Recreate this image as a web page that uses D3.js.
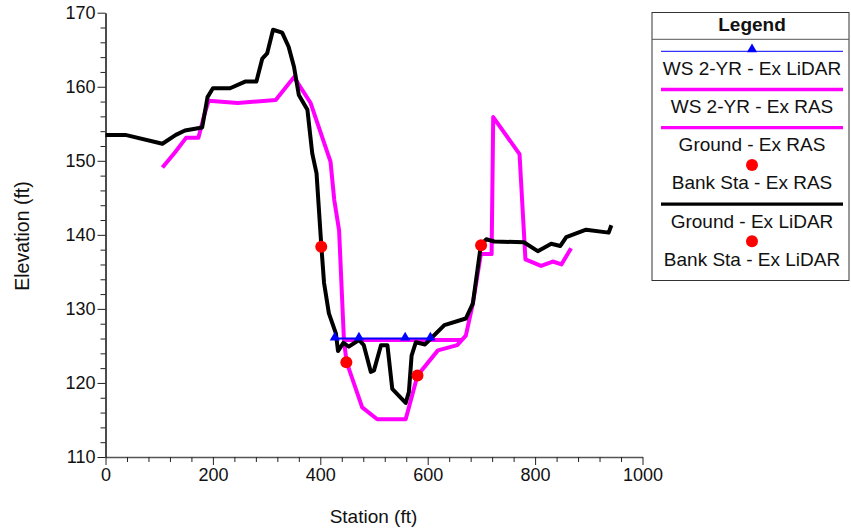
<!DOCTYPE html>
<html>
<head>
<meta charset="utf-8">
<script src="https://cdn.jsdelivr.net/npm/d3@7"></script>
<style>
body{margin:0;background:#fff;}
svg{font-family:"Liberation Sans",Arial,sans-serif;}
</style>
</head>
<body>
<div id="wrapper"></div>
<script>
// Data
const groundLidarSta = [0,37,106,131,148,180,190,200,232,260,281,292,301,312,329,341,351,360,376,385,393,402,407,416,429,433,443,453,472,481,494,500,513,525,534,559,565,570,578,595,606,631,671,684,699,709,724,779,805,830,847,858,895,937,942];
const groundLidarEl  = [153.5,153.5,152.3,153.5,154.1,154.5,158.6,159.8,159.8,160.7,160.7,163.8,164.5,167.7,167.3,165.4,162.7,158.9,156.9,151,148.3,138.4,133.5,129.4,126.7,124.3,125.4,124.9,125.8,125.1,121.5,121.7,125.1,125.1,119.2,117.3,118.8,123.7,125.5,125.2,126,127.8,128.7,130.7,138.6,139.4,139.1,139,137.8,138.8,138.5,139.7,140.7,140.3,141.3];
const groundRasSta = [106,130,150,173,184,192,246,317,351,382,419,426,435,444,449,478,506,559,581,619,655,671,684,699,719,722,771,782,811,833,849,867];
const groundRasEl  = [149.1,151.2,153.1,153.1,156.2,158.1,157.8,158.2,161.3,157.8,149.9,144.7,140.6,125.8,122.8,116.7,115.1,115.1,121.0,124.4,125.1,126.4,130.7,137.4,137.4,155.9,150.9,136.7,135.8,136.4,136,138.2];
const wsLidarSta = [427,472,558,605];
const wsLidarEl  = [126,126,126,126];
const wsRasSta = [444,663];
const wsRasEl  = [125.8,125.8];
const bankRasSta = [448.5,581];
const bankRasEl  = [122.8,121.0];
const bankLidarSta = [401.8,699.4];
const bankLidarEl  = [138.4,138.6];
const xTicks = [0,200,400,600,800,1000];
const yTicks = [110,120,130,140,150,160,170];
const legendItems = [
  {label:"WS 2-YR - Ex LiDAR", kind:"wsl"},
  {label:"WS 2-YR - Ex RAS", kind:"mag"},
  {label:"Ground - Ex RAS", kind:"mag"},
  {label:"Bank Sta - Ex RAS", kind:"dot"},
  {label:"Ground - Ex LiDAR", kind:"blk"},
  {label:"Bank Sta - Ex LiDAR", kind:"dot"}
];

const zip = (a,b) => a.map((v,i)=>[v,b[i]]);

const width = 851, height = 531;
const svg = d3.select("#wrapper").append("svg").attr("width",width).attr("height",height);

const x = d3.scaleLinear().domain([0,1000]).range([105.5,642.5]);
const y = d3.scaleLinear().domain([110,170]).range([457,12.7]);

// Axes
const xMinor = d3.range(0,1001,40).filter(v=>v%200!==0);
const yMinor = d3.range(110,171,2).filter(v=>v%10!==0);

const xAxis = svg.append("g").attr("transform",`translate(0,${y(110)})`)
  .call(d3.axisBottom(x).tickValues(xTicks).tickFormat(d3.format("d")).tickSize(8).tickSizeOuter(0).tickPadding(3));
xAxis.append("g").call(d3.axisBottom(x).tickValues(xMinor).tickSize(5).tickFormat(""))
  .select(".domain").remove();
xAxis.select(".domain").attr("stroke","#555");
const yAxis = svg.append("g").attr("transform",`translate(${x(0)},0)`)
  .call(d3.axisLeft(y).tickValues(yTicks).tickSize(8).tickSizeOuter(0).tickPadding(2));
yAxis.append("g").call(d3.axisLeft(y).tickValues(yMinor).tickSize(5).tickFormat(""))
  .select(".domain").remove();
yAxis.select(".domain").attr("stroke","#111");
svg.selectAll(".domain").attr("stroke-width",1.5);
svg.selectAll(".tick text").attr("font-size","18px").attr("fill","#111").attr("font-family","'Liberation Sans',Arial,sans-serif");
svg.selectAll(".tick line").attr("stroke","#222");

svg.append("text").attr("x",373.5).attr("y",523).attr("text-anchor","middle")
  .attr("font-size","19px").attr("fill","#111").text("Station (ft)");
svg.append("text").attr("transform","translate(29,236) rotate(-90)").attr("text-anchor","middle")
  .attr("font-size","19.5px").attr("fill","#111").text("Elevation (ft)");

// Lines
const line = d3.line().x(d=>x(d[0])).y(d=>y(d[1]));
svg.append("path").datum(zip(groundRasSta,groundRasEl)).attr("d",line)
  .attr("fill","none").attr("stroke","#ff00ff").attr("stroke-width",4).attr("stroke-linejoin","round");
svg.append("path").datum(zip(wsRasSta,wsRasEl)).attr("d",line)
  .attr("fill","none").attr("stroke","#ff00ff").attr("stroke-width",4);
svg.append("path").datum(zip(groundLidarSta,groundLidarEl)).attr("d",line)
  .attr("fill","none").attr("stroke","#000").attr("stroke-width",4).attr("stroke-linejoin","round");
svg.append("path").datum(zip(wsLidarSta,wsLidarEl)).attr("d",line)
  .attr("fill","none").attr("stroke","#0000ff").attr("stroke-width",2);
const tri = d3.symbol().type(d3.symbolTriangle).size(45);
svg.selectAll(".wst").data(zip(wsLidarSta,wsLidarEl)).enter().append("path")
  .attr("transform",d=>`translate(${x(d[0])},${y(d[1])-1})`).attr("d",tri).attr("fill","#0000ff");
svg.selectAll(".bk").data(zip(bankRasSta,bankRasEl).concat(zip(bankLidarSta,bankLidarEl))).enter().append("circle")
  .attr("cx",d=>x(d[0])).attr("cy",d=>y(d[1])).attr("r",6).attr("fill","#ff0000");

// Legend
const lg = svg.append("g");
lg.append("rect").attr("x",652).attr("y",12.5).attr("width",197).attr("height",268)
  .attr("fill","#fff").attr("stroke","#333").attr("stroke-width",1);
lg.append("line").attr("x1",652).attr("x2",849).attr("y1",39.3).attr("y2",39.3).attr("stroke","#555");
lg.append("text").attr("x",752).attr("y",31).attr("text-anchor","middle").attr("font-size","19px")
  .attr("font-weight","bold").attr("fill","#111").text("Legend");
legendItems.forEach((it,i)=>{
  const sy = 51.3 + i*38.2;
  if(it.kind==="wsl"){
    lg.append("line").attr("x1",661).attr("x2",843).attr("y1",sy).attr("y2",sy).attr("stroke","#0000ff").attr("stroke-width",1);
    lg.append("path").attr("transform",`translate(752,${sy-2})`).attr("d",tri).attr("fill","#0000ff");
  } else if(it.kind==="dot"){
    lg.append("circle").attr("cx",752).attr("cy",sy-1).attr("r",6).attr("fill","#ff0000");
  } else {
    lg.append("line").attr("x1",661).attr("x2",843).attr("y1",sy).attr("y2",sy)
      .attr("stroke",it.kind==="mag"?"#ff00ff":"#000").attr("stroke-width",3.3);
  }
  lg.append("text").attr("x",752).attr("y",sy+23.5).attr("text-anchor","middle").attr("font-size","19px")
    .attr("fill","#111").text(it.label);
});
</script>
</body>
</html>
